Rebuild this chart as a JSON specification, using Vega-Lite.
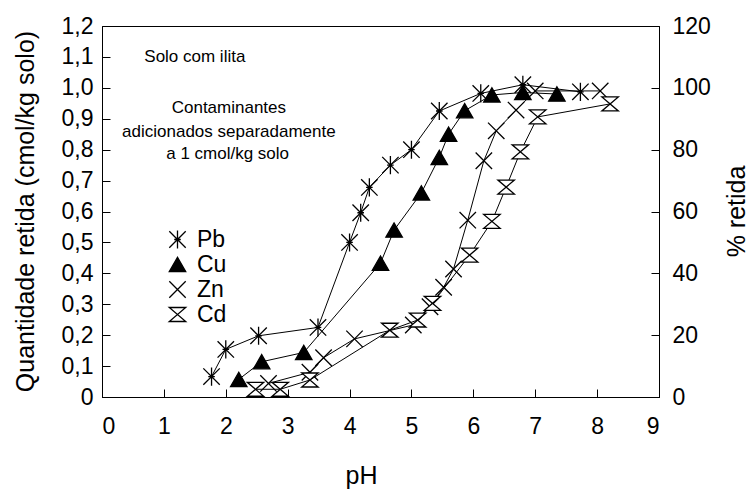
{
  "$schema": "https://vega.github.io/schema/vega-lite/v6.json",
  "width": 557,
  "height": 371,
  "autosize": {"type": "none"},
  "padding": {"left": 102, "top": 26, "right": 90, "bottom": 92},
  "background": "white",
  "config": {
    "font": "Liberation Sans",
    "view": {"stroke": "black", "strokeWidth": 1},
    "axis": {
      "grid": false,
      "domainColor": "black",
      "domainWidth": 1,
      "tickColor": "black",
      "tickWidth": 1,
      "tickSize": -8,
      "labelColor": "black",
      "titleColor": "black",
      "labelFont": "Liberation Sans",
      "titleFont": "Liberation Sans",
      "titleFontWeight": "normal",
      "labelFontSize": 23,
      "titleFontSize": 25
    }
  },
  "datasets": {
    "obs": [
      {"metal": "Pb", "pH": 1.77, "q": 0.066},
      {"metal": "Pb", "pH": 2.0, "q": 0.154},
      {"metal": "Pb", "pH": 2.53, "q": 0.198},
      {"metal": "Pb", "pH": 3.49, "q": 0.225},
      {"metal": "Pb", "pH": 4.0, "q": 0.5},
      {"metal": "Pb", "pH": 4.18, "q": 0.596},
      {"metal": "Pb", "pH": 4.32, "q": 0.678},
      {"metal": "Pb", "pH": 4.66, "q": 0.75},
      {"metal": "Pb", "pH": 5.0, "q": 0.8},
      {"metal": "Pb", "pH": 5.45, "q": 0.925},
      {"metal": "Pb", "pH": 6.12, "q": 0.982},
      {"metal": "Pb", "pH": 6.8, "q": 1.01},
      {"metal": "Pb", "pH": 7.73, "q": 0.987},
      {"metal": "Cu", "pH": 2.21, "q": 0.057},
      {"metal": "Cu", "pH": 2.58, "q": 0.114},
      {"metal": "Cu", "pH": 3.26, "q": 0.144},
      {"metal": "Cu", "pH": 4.5, "q": 0.433},
      {"metal": "Cu", "pH": 4.72, "q": 0.54},
      {"metal": "Cu", "pH": 5.16, "q": 0.66},
      {"metal": "Cu", "pH": 5.45, "q": 0.775},
      {"metal": "Cu", "pH": 5.6, "q": 0.85},
      {"metal": "Cu", "pH": 5.86, "q": 0.926},
      {"metal": "Cu", "pH": 6.3, "q": 0.977},
      {"metal": "Cu", "pH": 6.8, "q": 0.985},
      {"metal": "Cu", "pH": 7.35, "q": 0.98},
      {"metal": "Zn", "pH": 2.69, "q": 0.044},
      {"metal": "Zn", "pH": 3.36, "q": 0.08},
      {"metal": "Zn", "pH": 3.58, "q": 0.127},
      {"metal": "Zn", "pH": 4.08, "q": 0.188},
      {"metal": "Zn", "pH": 5.03, "q": 0.233},
      {"metal": "Zn", "pH": 5.3, "q": 0.292},
      {"metal": "Zn", "pH": 5.52, "q": 0.355},
      {"metal": "Zn", "pH": 5.68, "q": 0.414},
      {"metal": "Zn", "pH": 5.91, "q": 0.572},
      {"metal": "Zn", "pH": 6.17, "q": 0.764},
      {"metal": "Zn", "pH": 6.37, "q": 0.861},
      {"metal": "Zn", "pH": 6.69, "q": 0.928},
      {"metal": "Zn", "pH": 7.0, "q": 0.99},
      {"metal": "Zn", "pH": 8.05, "q": 0.99},
      {"metal": "Cd", "pH": 2.48, "q": 0.025},
      {"metal": "Cd", "pH": 2.88, "q": 0.025},
      {"metal": "Cd", "pH": 3.36, "q": 0.055},
      {"metal": "Cd", "pH": 4.65, "q": 0.216},
      {"metal": "Cd", "pH": 5.1, "q": 0.249},
      {"metal": "Cd", "pH": 5.34, "q": 0.303},
      {"metal": "Cd", "pH": 5.94, "q": 0.459},
      {"metal": "Cd", "pH": 6.3, "q": 0.568},
      {"metal": "Cd", "pH": 6.53, "q": 0.679},
      {"metal": "Cd", "pH": 6.76, "q": 0.793},
      {"metal": "Cd", "pH": 7.04, "q": 0.906},
      {"metal": "Cd", "pH": 8.21, "q": 0.948}
    ],
    "notes": [
      {"label": "Solo com ilita", "x": 1.5, "y": 1.1},
      {"label": "Contaminantes", "x": 2.05, "y": 0.935},
      {"label": "adicionados separadamente", "x": 2.05, "y": 0.856},
      {"label": "a 1 cmol/kg solo", "x": 2.03, "y": 0.785}
    ]
  },
  "layer": [
    {
      "data": {"name": "obs"},
      "mark": {"type": "line", "color": "black", "strokeWidth": 1},
      "encoding": {
        "x": {
          "field": "pH", "type": "quantitative",
          "scale": {"domain": [0, 9], "nice": false, "zero": false},
          "axis": {
            "values": [0, 1, 2, 3, 4, 5, 6, 7, 8, 9],
            "format": "d",
            "labelPadding": 26,
            "title": "pH",
            "titleX": 259,
            "titleY": 86,
            "titleAlign": "center",
            "titleBaseline": "alphabetic"
          }
        },
        "y": {
          "field": "q", "type": "quantitative",
          "scale": {"domain": [0, 1.2], "nice": false},
          "axis": {
            "orient": "left",
            "values": [0, 0.1, 0.2, 0.3, 0.4, 0.5, 0.6, 0.7, 0.8, 0.9, 1.0, 1.1, 1.2],
            "labelExpr": "datum.value == 0 ? '0' : replace(format(datum.value, '.1f'), '.', ',')",
            "labelPadding": 17,
            "title": "Quantidade retida (cmol/kg solo)",
            "titleAngle": -90,
            "titleX": -77,
            "titleY": 185,
            "titleAlign": "center",
            "titleBaseline": "middle"
          }
        },
        "detail": {"field": "metal"}
      }
    },
    {
      "data": {"name": "notes"},
      "mark": {"type": "text", "font": "Liberation Sans", "fontSize": 17, "color": "black", "align": "center", "baseline": "middle"},
      "encoding": {
        "x": {"field": "x", "type": "quantitative"},
        "y": {"field": "y", "type": "quantitative", "scale": {"domain": [0, 1.2], "nice": false}, "axis": null},
        "text": {"field": "label"}
      }
    },
    {
      "data": {"name": "obs"},
      "mark": {"type": "point", "filled": true, "stroke": "black", "strokeWidth": 1.3, "opacity": 1, "size": 270},
      "encoding": {
        "x": {"field": "pH", "type": "quantitative"},
        "y": {
          "field": "q", "type": "quantitative",
          "scale": {"domain": [0, 1.2], "nice": false},
          "axis": {
            "orient": "right",
            "values": [0, 0.2, 0.4, 0.6, 0.8, 1.0, 1.2],
            "labelExpr": "'' + round(datum.value * 100)",
            "labelPadding": 21,
            "title": "% retida",
            "titleAngle": -90,
            "titleX": 77,
            "titleY": 185,
            "titleAlign": "center",
            "titleBaseline": "middle"
          }
        },
        "shape": {
          "field": "metal", "type": "nominal",
          "scale": {
            "domain": ["Pb", "Cu", "Zn", "Cd"],
            "range": [
              "M-1,-1L1,1M-1,1L1,-1M0,-1.1L0,1.1M-0.4,0L0.4,0",
              "triangle-up",
              "M-1,-1L1,1M-1,1L1,-1",
              "M-1,-0.85L1,-0.85L-1,0.85L1,0.85Z"
            ]
          },
          "legend": {
            "orient": "none",
            "legendX": 64,
            "legendY": 202,
            "title": null,
            "padding": 0,
            "labelFont": "Liberation Sans",
            "labelFontSize": 23,
            "labelColor": "black",
            "labelOffset": 8,
            "rowPadding": 1,
            "symbolSize": 270,
            "symbolStrokeWidth": 1.3,
            "symbolStrokeColor": "black",
            "symbolOpacity": 1,
            "encode": {
              "symbols": {
                "update": {
                  "stroke": {"value": "black"},
                  "strokeWidth": {"value": 1.3},
                  "opacity": {"value": 1}
                }
              }
            }
          }
        },
        "fill": {
          "field": "metal", "type": "nominal",
          "scale": {
            "domain": ["Pb", "Cu", "Zn", "Cd"],
            "range": ["transparent", "black", "transparent", "white"]
          },
          "legend": {
            "orient": "none",
            "legendX": 64,
            "legendY": 202,
            "title": null,
            "padding": 0,
            "labelFont": "Liberation Sans",
            "labelFontSize": 23,
            "labelColor": "black",
            "labelOffset": 8,
            "rowPadding": 1,
            "symbolSize": 270,
            "symbolStrokeWidth": 1.3,
            "symbolStrokeColor": "black",
            "symbolOpacity": 1,
            "encode": {
              "symbols": {
                "update": {
                  "stroke": {"value": "black"},
                  "strokeWidth": {"value": 1.3},
                  "opacity": {"value": 1}
                }
              }
            }
          }
        }
      }
    }
  ],
  "resolve": {"scale": {"y": "independent"}}
}
